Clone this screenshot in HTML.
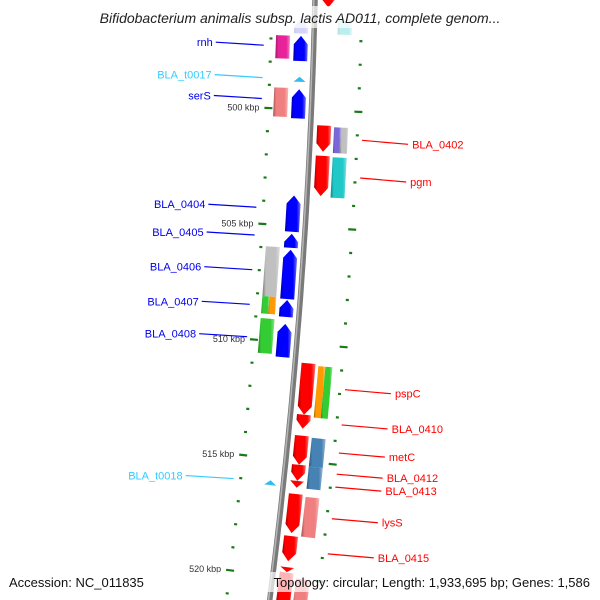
<!DOCTYPE html>
<html><head><meta charset="utf-8"><style>
html,body{margin:0;padding:0;background:#fff;}
svg{display:block;font-family:"Liberation Sans",sans-serif;}
</style></head><body>
<svg id="map" width="600" height="600" viewBox="0 0 600 600">
<defs id="defs"></defs>
<g id="rings"></g>
<g id="backbone"></g>
<g id="features"></g>
<g id="labels"></g>
<rect x="70" y="6" width="460" height="22" fill="rgba(255,255,255,0.7)"/>
<text x="300" y="23" text-anchor="middle" font-size="14" font-style="italic" fill="#222">Bifidobacterium animalis subsp. lactis AD011, complete genom...</text>
<rect x="4" y="572" width="592" height="20" fill="rgba(255,255,255,0.7)"/>
<text x="9" y="587" font-size="13" fill="#111">Accession: NC_011835</text>
<text x="590" y="587" text-anchor="end" font-size="13" fill="#111">Topology: circular; Length: 1,933,695 bp; Genes: 1,586</text>
</svg>
<script>
// data
const geneNames = ["top-red","top-cyan","top-lav","rnh","rnh-outer","BLA_t0017","serS","serS-outer","BLA_0402","0402-purple","0402-gray","pgm","pgm-outer","BLA_0404","BLA_0405","BLA_0406","0406-outer","BLA_0407","0407-orange","0407-green","BLA_0408","0408-outer","pspC","pspC-orange","pspC-green","BLA_0410","metC","metC-outer","0412-outer","BLA_0412","BLA_0413","BLA_t0018","lysS","lysS-outer","BLA_0415","small-red","bottom-red","bottom-pink"];
const geneStart = [495.2,496.1,496.1,496.85,496.85,498.6,499.14,499.1,500.65,500.7,500.7,501.94,501.98,503.7,505.34,506.03,505.95,508.19,508.1,508.1,509.22,509.05,510.82,510.9,510.9,513.02,513.92,513.97,515.2,515.17,515.86,515.95,516.42,516.5,518.23,519.57,519.8,520.0];
const geneEnd   = [495.6,496.75,496.75,497.93,497.85,498.82,500.39,500.35,501.77,501.8,501.8,503.66,503.7,505.26,505.95,508.15,508.1,508.92,508.85,508.85,510.65,510.55,513.02,513.1,513.1,513.62,515.17,515.2,516.15,515.86,516.15,516.16,518.1,518.2,519.31,519.78,521.5,521.5];
const geneTrack = ["ri","ro","li","li","lo","trna","li","lo","ri","roi","roo","ri","ro","li","li","li","lo","li","loi","loo","li","lo","ri","roi","roo","ri","ri","ro","ro","ri","ri","trna","ri","ro","ri","ri","ri","ro"];
const geneColor = ["#ff0000","#20c8c8","#7070f0","#0000ff","#e8239a","#33bbee","#0000ff","#f08080","#ff0000","#7b68d8","#c0c0c0","#ff0000","#20c8c8","#0000ff","#0000ff","#0000ff","#c0c0c0","#0000ff","#ff9900","#33cc33","#0000ff","#33cc33","#ff0000","#ff9900","#33cc33","#ff0000","#ff0000","#4682b4","#4682b4","#ff0000","#ff0000","#33bbee","#ff0000","#f08080","#ff0000","#ff0000","#ff0000","#f08080"];
const geneFade  = [0,0.3,0.3,0,0,0,0,0,0,0,0,0,0,0,0,0,0,0,0,0,0,0,0,0,0,0,0,0,0,0,0,0,0,0,0,0,0,0];
const tickKbp = [500,505,510,515,520];
const tickLabels = ["500 kbp","505 kbp","510 kbp","515 kbp","520 kbp"];
const minorStart = 496, minorEnd = 521;
const leftLabels = ["rnh","BLA_t0017","serS","BLA_0404","BLA_0405","BLA_0406","BLA_0407","BLA_0408","BLA_t0018"];
const leftLabelKbp = [497.3,498.7,499.6,504.3,505.5,507.0,508.5,509.9,516.05];
const rightLabels = ["BLA_0402","pgm","pspC","BLA_0410","metC","BLA_0412","BLA_0413","lysS","BLA_0415"];
const rightLabelKbp = [501.2,502.8,511.8,513.3,514.5,515.4,515.95,517.3,518.8];

// geometry
const NS="http://www.w3.org/2000/svg";
const R=5800, CX=-5483.4, CY=-136;
function ang(k){return 0.0424+(k-500)*0.00403;}
function pt(k,d){const a=ang(k);return [CX+(R+d)*Math.cos(a), CY+(R+d)*Math.sin(a)];}
function mk(tag,attrs,parent){const e=document.createElementNS(NS,tag);for(const k in attrs)e.setAttribute(k,attrs[k]);parent.appendChild(e);return e;}
const tracks={li:[-20,-6],lo:[-38,-24],ri:[6.5,20.5],ro:[23.5,37.5],roi:[23.5,30.5],roo:[30.5,37.5],loi:[-31,-24],loo:[-38,-31],trna:[-19,-7]};
const defs=document.getElementById('defs');
function shade(c,f){const n=parseInt(c.slice(1),16);let r=n>>16,g=(n>>8)&255,b=n&255;
 if(f<1){r*=f;g*=f;b*=f;}else{r=r+(255-r)*(f-1);g=g+(255-g)*(f-1);b=b+(255-b)*(f-1);}
 return `rgb(${r|0},${g|0},${b|0})`;}
const grads={};
function grad(c){if(grads[c])return grads[c];const id='g'+c.slice(1);
 const lg=mk('linearGradient',{id:id,x1:0,y1:0,x2:1,y2:0},defs);
 [[0,shade(c,0.65)],[0.2,c],[0.75,c],[1,shade(c,1.45)]].forEach(s=>mk('stop',{offset:s[0],'stop-color':s[1]},lg));
 grads[c]='url(#'+id+')';return grads[c];}

// rings
const rings=document.getElementById('rings');
for(let k=minorStart;k<=minorEnd;k++){
 const major=tickKbp.indexOf(k)>=0;
 [-43,47].forEach(d=>{
  const p1=pt(k,d-(major?4:1.5)), p2=pt(k,d+(major?4:1.5));
  const l=mk('line',{x1:p1[0],y1:p1[1],x2:p2[0],y2:p2[1],stroke:'#1a7a1a','stroke-width':2.2},rings);
  
  
 });
}
tickKbp.forEach((k,i)=>{const p=pt(k,-52);
 const t=mk('text',{x:p[0],y:p[1]+3,'text-anchor':'end','font-size':9,fill:'#333'},rings);t.textContent=tickLabels[i];
 
 });

// backbone
const bb=document.getElementById('backbone');
let dd='';for(let k=494;k<=522;k+=0.5){const p=pt(k,0);dd+=(dd?'L':'M')+p[0].toFixed(1)+','+p[1].toFixed(1);}
mk('path',{d:dd,stroke:'#7a7a7a','stroke-width':5.5,fill:'none'},bb);
let dd2='';for(let k=494;k<=522;k+=0.5){const p=pt(k,-1.2);dd2+=(dd2?'L':'M')+p[0].toFixed(1)+','+p[1].toFixed(1);}
mk('path',{d:dd2,stroke:'#b5b5b5','stroke-width':1.5,fill:'none'},bb);

// features
const fg=document.getElementById('features');
geneNames.forEach((n,i)=>{
 const s=geneStart[i],e=geneEnd[i],tr=tracks[geneTrack[i]],c=geneColor[i];
 const d1=tr[0],d2=tr[1],dm=(d1+d2)/2;
 let pts;
 const t=geneTrack[i];
 const h=Math.min(0.36,(e-s));
 if(t==='trna'){pts=[pt(s,dm),pt(e,d1),pt(e,d2)];}
 else if(t==='li'){pts=[pt(s,dm),pt(s+h,d2),pt(e,d2),pt(e,d1),pt(s+h,d1)];}
 else if(t==='ri'){pts=[pt(s,d1),pt(s,d2),pt(e-h,d2),pt(e,dm),pt(e-h,d1)];}
 else {pts=[pt(s,d1),pt(s,d2),pt(e,d2),pt(e,d1)];}
 const p=mk('polygon',{points:pts.map(q=>q[0].toFixed(1)+','+q[1].toFixed(1)).join(' '),fill:t==='trna'?c:grad(c),opacity:geneFade[i]?geneFade[i]:1},fg);
 
 
});

// labels
const lg=document.getElementById('labels');
leftLabels.forEach((n,i)=>{
 const k=leftLabelKbp[i];const a=pt(k,-50);const col=n.indexOf('_t')>0?'#33ccff':'#0000ee';
 const bx=a[0]-48, by=a[1]-3;
 const l=mk('line',{x1:bx,y1:by,x2:a[0],y2:a[1],stroke:col,'stroke-width':1.2},lg);
 
 
 const t=mk('text',{x:bx-3,y:by+4,'text-anchor':'end','font-size':11,fill:col},lg);t.textContent=n;
 
 
});
rightLabels.forEach((n,i)=>{
 const k=rightLabelKbp[i];const a=pt(k,52);
 const bx=a[0]+46, by=a[1]+4;
 const l=mk('line',{x1:a[0],y1:a[1],x2:bx,y2:by,stroke:'#ff0000','stroke-width':1.2},lg);
 
 
 const t=mk('text',{x:bx+4,y:by+4,'font-size':11,fill:'#ff0000'},lg);t.textContent=n;
 
 
});
</script>
</body></html>
